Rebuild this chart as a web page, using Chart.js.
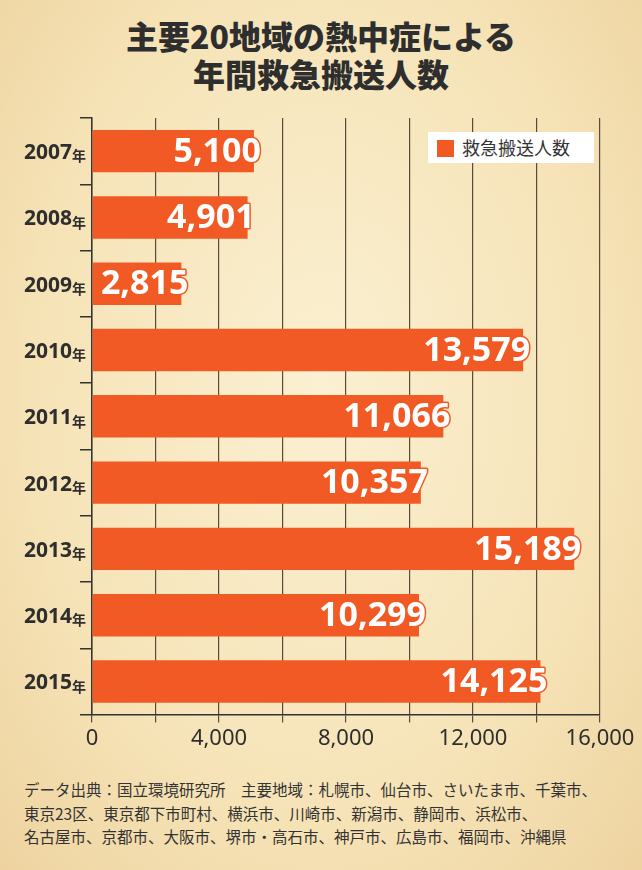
<!DOCTYPE html>
<html><head><meta charset="utf-8">
<script src="https://cdn.jsdelivr.net/npm/chart.js@4"></script>
<style>
body{margin:0;width:642px;height:870px;overflow:hidden;font-family:"Noto Sans CJK JP","Noto Sans",sans-serif;
 background:radial-gradient(ellipse at 50% 45%,#fbf0d2 0%,#f6e4b8 60%,#eed3a0 100%);position:relative;}
#title{position:absolute;top:16px;left:0;width:642px;text-align:center;font-weight:900;font-size:32px;line-height:38px;color:#2e2e2e;}
#wrap{position:absolute;top:110px;left:0;width:642px;height:645px;}
#legend{position:absolute;top:132px;left:428px;width:166px;height:31px;background:#fff;font-size:18px;color:#333;line-height:31px;}
#legend span{display:inline-block;width:17px;height:17px;background:#f15a24;vertical-align:-2px;margin:0 8px 0 9px;}
#note{position:absolute;top:778px;left:24px;font-size:15.5px;line-height:23.5px;color:#333;}
</style></head><body>
<div id="title">主要20地域の熱中症による<br>年間救急搬送人数</div>
<div id="wrap"><canvas id="c"></canvas></div>
<div id="legend"><span></span>救急搬送人数</div>
<div id="note">データ出典：国立環境研究所　主要地域：札幌市、仙台市、さいたま市、千葉市、<br>東京23区、東京都下市町村、横浜市、川崎市、新潟市、静岡市、浜松市、<br>名古屋市、京都市、大阪市、堺市・高石市、神戸市、広島市、福岡市、沖縄県</div>
<script>
var years = ['2007', '2008', '2009', '2010', '2011', '2012', '2013', '2014', '2015'];
var cases = [5100, 4901, 2815, 13579, 11066, 10357, 15189, 10299, 14125];
var xTicks = [0, 4000, 8000, 12000, 16000];

var labelPlugin = {
  id: 'labels',
  afterDatasetsDraw: function (chart) {
    var ctx = chart.ctx, meta = chart.getDatasetMeta(0);
    ctx.save();
    meta.data.forEach(function (bar, i) {
      var txt = cases[i].toLocaleString('en-US');
      ctx.font = 'bold 34px "Noto Sans", sans-serif';
      ctx.textAlign = 'right'; ctx.textBaseline = 'middle';
      ctx.lineJoin = 'round'; ctx.lineWidth = 3; ctx.strokeStyle = '#f15a24';
      var x = bar.x + 7, y = bar.y + 1;
      ctx.strokeText(txt, x, y);
      ctx.fillStyle = '#fff'; ctx.fillText(txt, x, y);
      // year labels
      ctx.fillStyle = '#2e2e2e';
      ctx.font = 'bold 14px "Noto Sans CJK JP", sans-serif';
      ctx.fillText('年', 86, bar.y + 5);
      var w = ctx.measureText('年').width;
      ctx.font = 'bold 21px "Noto Sans", sans-serif';
      ctx.fillText(years[i], 86 - w, bar.y + 2);
    });
    ctx.restore();
  }
};

new Chart(document.getElementById('c'), {
  type: 'bar',
  data: {
    labels: years,
    datasets: [{ label: '救急搬送人数', data: cases, backgroundColor: '#f15a24', barPercentage: 0.64, categoryPercentage: 1 }]
  },
  options: {
    indexAxis: 'y', responsive: true, maintainAspectRatio: false, animation: false,
    layout: { padding: { top: 8, right: 42, bottom: 0, left: 0 } },
    plugins: { legend: { display: false }, tooltip: { enabled: false } },
    scales: {
      x: {
        min: 0, max: 16000,
        ticks: { stepSize: 2000, autoSkip: false, maxRotation: 0, minRotation: 0, color: '#2e2e2e',
          font: { size: 22, family: '"Noto Sans", sans-serif' },
          callback: function (v) { return xTicks.indexOf(v) >= 0 ? v.toLocaleString('en-US') : ''; } },
        grid: { color: '#5a4a3a', lineWidth: 1.2, tickLength: 8 },
        border: { color: '#333', width: 1.5 }
      },
      y: {
        afterFit: function (s) { s.width = 92; },
        ticks: { display: false },
        grid: { offset: true, drawOnChartArea: false, color: '#333', tickLength: 12, lineWidth: 1.5 },
        border: { color: '#333', width: 1.5 }
      }
    }
  },
  plugins: [labelPlugin]
});
</script>
</body></html>
